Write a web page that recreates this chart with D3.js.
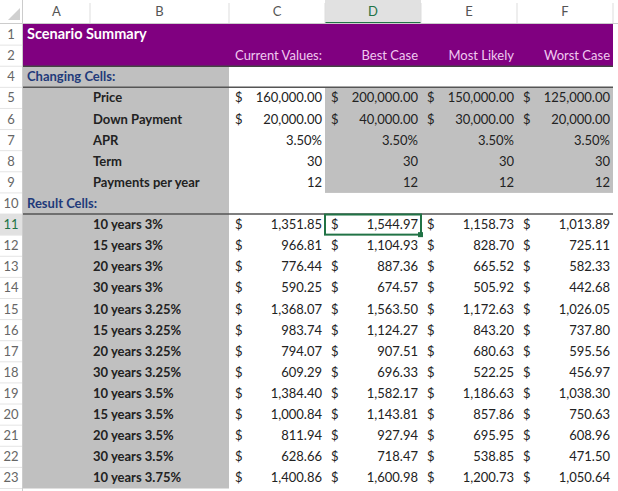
<!DOCTYPE html>
<html><head><meta charset="utf-8">
<script src="https://cdn.jsdelivr.net/npm/d3@7"></script>
<style>body{margin:0;background:#fff}text{font-family:Lato,"Open Sans",sans-serif;font-size:13px}</style>
</head><body><svg id="c" width="618" height="491"></svg>
<script>
var colNames = ['A', 'B', 'C', 'D', 'E', 'F'];
var colEdges = [23, 90, 229, 325, 421, 517, 613];
var rowNums = [1, 2, 4, 5, 6, 7, 8, 9, 10, 11, 12, 13, 14, 15, 16, 17, 18, 19, 20, 21, 22, 23];
var scenarios = ['Current Values:', 'Best Case', 'Most Likely', 'Worst Case'];
var inputLabels = ['Price', 'Down Payment', 'APR', 'Term', 'Payments per year'];
var price = [160000, 200000, 150000, 125000];
var down = [20000, 40000, 30000, 20000];
var apr = [0.035, 0.035, 0.035, 0.035];
var term = [30, 30, 30, 30];
var perYear = [12, 12, 12, 12];
var resultLabels = ['10 years 3%', '15 years 3%', '20 years 3%', '30 years 3%',
  '10 years 3.25%', '15 years 3.25%', '20 years 3.25%', '30 years 3.25%',
  '10 years 3.5%', '15 years 3.5%', '20 years 3.5%', '30 years 3.5%', '10 years 3.75%'];
var results = [
  [1351.85, 1544.97, 1158.73, 1013.89],
  [966.81, 1104.93, 828.70, 725.11],
  [776.44, 887.36, 665.52, 582.33],
  [590.25, 674.57, 505.92, 442.68],
  [1368.07, 1563.50, 1172.63, 1026.05],
  [983.74, 1124.27, 843.20, 737.80],
  [794.07, 907.51, 680.63, 595.56],
  [609.29, 696.33, 522.25, 456.97],
  [1384.40, 1582.17, 1186.63, 1038.30],
  [1000.84, 1143.81, 857.86, 750.63],
  [811.94, 927.94, 695.95, 608.96],
  [628.66, 718.47, 538.85, 471.50],
  [1400.86, 1600.98, 1200.73, 1050.64]
];

var svg = d3.select('#c');
var y = d3.scaleBand().domain(rowNums).range([24, 488.5]);
var rh = y.bandwidth();
var money = d3.format(',.2f'), pct = d3.format('.2%');
var grey = '#c0c0c0', purple = '#800080';

function rect(x0, x1, r0, r1, fill) {
  svg.append('rect').attr('x', x0).attr('y', y(r0)).attr('width', x1 - x0)
    .attr('height', y(r1) + rh - y(r0)).attr('fill', fill);
}
function txt(x, r, s, o) {
  o = o || {};
  return svg.append('text').attr('x', x).attr('y', y(r) + rh / 2 + 4.5)
    .attr('text-anchor', o.anchor || 'start').attr('fill', o.fill || '#222')
    .attr('font-weight', o.bold ? 'bold' : null).text(s);
}

// headers
svg.append('rect').attr('x', colEdges[3]).attr('width', 96).attr('height', 23).attr('fill', '#e1e1e1');
svg.append('line').attr('x1', colEdges[3]).attr('x2', colEdges[4]).attr('y1', 23).attr('y2', 23).attr('stroke', '#217346').attr('stroke-width', 2);
svg.append('path').attr('d', 'M8,20 L20,20 L20,8 Z').attr('fill', '#d0d0d0');
colNames.forEach(function (c, i) {
  svg.append('text').attr('x', (colEdges[i] + colEdges[i + 1]) / 2).attr('y', 16)
    .attr('text-anchor', 'middle').attr('fill', i === 3 ? '#217346' : '#555').text(c);
  svg.append('line').attr('x1', colEdges[i + 1]).attr('x2', colEdges[i + 1]).attr('y1', 3).attr('y2', 23).attr('stroke', '#ddd');
});
svg.append('line').attr('x1', 0).attr('x2', 618).attr('y1', 23.5).attr('y2', 23.5).attr('stroke', '#ccc');
svg.append('line').attr('x1', 22.5).attr('x2', 22.5).attr('y1', 0).attr('y2', 491).attr('stroke', '#ccc');
rowNums.forEach(function (r) {
  if (r === 11) svg.append('rect').attr('x', 0).attr('y', y(r)).attr('width', 22).attr('height', rh).attr('fill', '#e1e1e1');
  svg.append('text').attr('x', 11).attr('y', y(r) + rh / 2 + 4.5).attr('text-anchor', 'middle')
    .attr('fill', r === 11 ? '#217346' : '#666').text(r);
  svg.append('line').attr('x1', 0).attr('x2', 22).attr('y1', y(r) + rh).attr('y2', y(r) + rh).attr('stroke', '#e4e4e4');
});

// fills
rect(colEdges[0], colEdges[6], 1, 2, purple);
rect(colEdges[0], colEdges[2], 4, 23, grey);
rect(colEdges[3], colEdges[6], 5, 9, grey);
[4, 10].forEach(function (r) {
  svg.append('line').attr('x1', colEdges[0]).attr('x2', colEdges[6]).attr('y1', y(r) + rh).attr('y2', y(r) + rh).attr('stroke', '#555').attr('stroke-width', 1.5);
});
svg.append('line').attr('x1', colEdges[0]).attr('x2', colEdges[6]).attr('y1', y(2) + rh).attr('y2', y(2) + rh).attr('stroke', '#444').attr('stroke-width', 1.5);

// text
txt(27, 1, 'Scenario Summary', { fill: '#fff', bold: true }).style('font-size', '14.5px');
scenarios.forEach(function (s, i) { txt(colEdges[i + 3] - 3, 2, s, { anchor: 'end', fill: '#f0c8f0' }); });
txt(27, 4, 'Changing Cells:', { fill: '#1f3a7a', bold: true });
txt(27, 10, 'Result Cells:', { fill: '#1f3a7a', bold: true });
inputLabels.forEach(function (l, i) { txt(93, 5 + i, l, { bold: true }); });
resultLabels.forEach(function (l, i) { txt(93, 11 + i, l, { bold: true }); });

function acct(i, r, v) {
  txt(colEdges[i + 2] + 6, r, '$');
  txt(colEdges[i + 3] - 3, r, money(v), { anchor: 'end' });
}
scenarios.forEach(function (s, i) {
  acct(i, 5, price[i]);
  acct(i, 6, down[i]);
  txt(colEdges[i + 3] - 3, 7, pct(apr[i]), { anchor: 'end' });
  txt(colEdges[i + 3] - 3, 8, term[i], { anchor: 'end' });
  txt(colEdges[i + 3] - 3, 9, perYear[i], { anchor: 'end' });
  results.forEach(function (row, j) { acct(i, 11 + j, row[i]); });
});

// selected cell D11
svg.append('rect').attr('x', colEdges[3]).attr('y', y(11) + 0.5).attr('width', 96).attr('height', rh - 1)
  .attr('fill', 'none').attr('stroke', '#217346').attr('stroke-width', 2);
svg.append('rect').attr('x', colEdges[4] - 3).attr('y', y(11) + rh - 3).attr('width', 5).attr('height', 5).attr('fill', '#217346');
</script></body></html>
